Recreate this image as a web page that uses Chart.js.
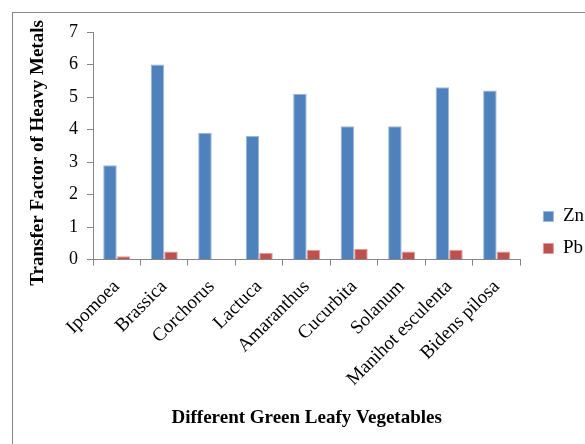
<!DOCTYPE html>
<html>
<head>
<meta charset="utf-8">
<script src="https://cdn.jsdelivr.net/npm/chart.js@4"></script>
<style>
  html, body { margin: 0; padding: 0; background: #fff; overflow: hidden; }
  #wrap { position: relative; width: 585px; height: 444px; overflow: hidden; }
  #frame { position: absolute; left: 12px; top: 12px; width: 640px; height: 480px;
           border: 1px solid #868686; box-sizing: border-box; }
  #c { position: absolute; left: 0; top: 0; }
</style>
</head>
<body>
<div id="wrap">
  <div id="frame"></div>
  <canvas id="c" width="600" height="444"></canvas>
</div>
<script>
// Transfer factor of heavy metals per vegetable
const categories = ['Ipomoea', 'Brassica', 'Corchorus', 'Lactuca', 'Amaranthus',
                    'Cucurbita', 'Solanum', 'Manihot esculenta', 'Bidens pilosa'];
const znValues = [2.9, 6.0, 3.9, 3.8, 5.1, 4.1, 4.1, 5.3, 5.2];
const pbValues = [0.1, 0.25, 0, 0.2, 0.3, 0.33, 0.25, 0.3, 0.25];
const yTickValues = [0, 1, 2, 3, 4, 5, 6, 7];

const serif = '"Liberation Serif", "Times New Roman", serif';
const axisGray = '#868686';

new Chart(document.getElementById('c'), {
  type: 'bar',
  data: {
    labels: categories,
    datasets: [
      { label: 'Zn', data: znValues, backgroundColor: '#4F81BD',
        borderColor: '#9DB8DC', borderWidth: 1 },
      { label: 'Pb', data: pbValues, backgroundColor: '#C0504D',
        borderColor: '#DC9E9C', borderWidth: 1 }
    ]
  },
  options: {
    responsive: false,
    animation: false,
    layout: { padding: { top: 32, left: 20, right: 6, bottom: 11 } },
    datasets: { bar: { categoryPercentage: 0.57, barPercentage: 1.0 } },
    plugins: {
      tooltip: { enabled: false },
      legend: {
        position: 'right',
        labels: {
          boxWidth: 10, boxHeight: 10, padding: 13, color: '#000',
          font: { family: serif, size: 19 }
        }
      }
    },
    scales: {
      x: {
        grid: { drawOnChartArea: false, tickLength: 6, color: axisGray },
        border: { color: axisGray },
        ticks: { minRotation: 45, maxRotation: 45, padding: 10, color: '#000',
                 font: { family: serif, size: 19 } },
        title: { display: true, text: 'Different Green Leafy Vegetables', color: '#000',
                 font: { family: serif, size: 19, weight: 'bold' },
                 padding: { top: 0, bottom: 4 } },
        afterFit: s => { s.height = 173.4; }
      },
      y: {
        min: 0, max: 7,
        afterBuildTicks: s => { s.ticks = yTickValues.map(v => ({ value: v })); },
        grid: { drawOnChartArea: false, tickLength: 6, color: axisGray },
        border: { color: axisGray },
        ticks: { padding: 9, color: '#000', font: { family: serif, size: 18 } },
        title: { display: true, text: 'Transfer Factor of Heavy Metals\u00A0\u00A0\u00A0', color: '#000',
                 font: { family: serif, size: 19, weight: 'bold' },
                 padding: { top: 6.6, bottom: 0 } },
        afterFit: s => { s.width = 73; }
      },
      // blank strip between the plot and the legend
      spacer: {
        position: 'right', display: true,
        grid: { display: false }, border: { display: false }, ticks: { display: false },
        afterFit: s => { s.width = 10; }
      }
    }
  }
});
</script>
</body>
</html>
